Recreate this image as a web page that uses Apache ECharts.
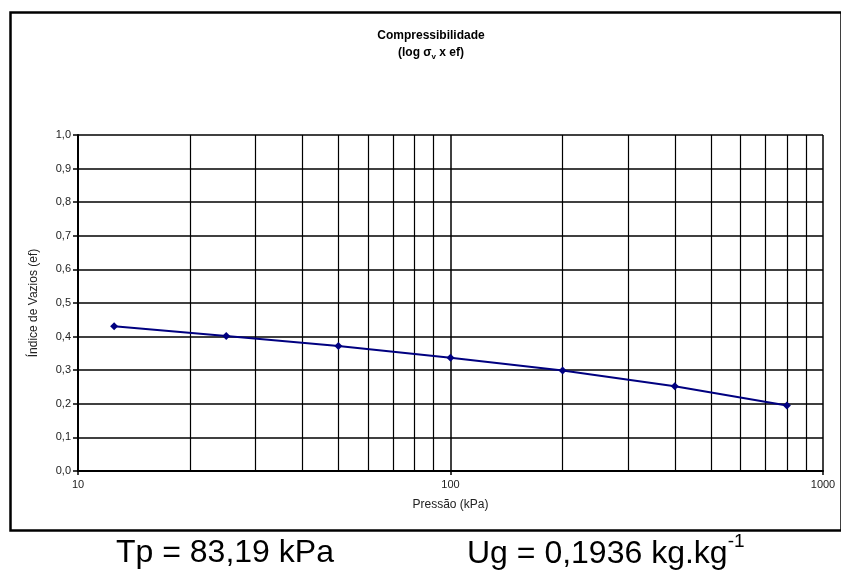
<!DOCTYPE html>
<html>
<head>
<meta charset="utf-8">
<script src="https://cdn.jsdelivr.net/npm/echarts@6/dist/echarts.min.js"></script>
<style>
html,body{margin:0;padding:0;background:#fff;}
#chart{width:841px;height:574px;}
</style>
</head>
<body>
<div id="chart"></div>
<script>
// Data
const pressures = [12.5, 25, 50, 100, 200, 400, 800];
const voidRatio = [0.431, 0.402, 0.372, 0.337, 0.299, 0.252, 0.195];
const minorGridX = [20, 30, 40, 50, 60, 70, 80, 90, 200, 300, 400, 500, 600, 700, 800, 900];
const titleLine1 = 'Compressibilidade';
const xAxisName = 'Pressão (kPa)';
const yAxisName = 'Índice de Vazios (ef)';
const tpText = 'Tp = 83,19 kPa';
const ugText = 'Ug = 0,1936 kg.kg';
const ugSup = '-1';

const FONT = 'Liberation Sans, Arial, sans-serif';
const chart = echarts.init(document.getElementById('chart'), null, {renderer: 'canvas'});

const option = {
  backgroundColor: '#fff',
  animation: false,
  title: [
    {
      text: '{t|' + titleLine1 + '}\n{b|(log }{s|σ}{v|v}{b| x ef)}',
      left: 426, top: 22, textAlign: 'center',
      textStyle: {
        rich: {
          t: {fontFamily: FONT, fontSize: 12, fontWeight: 'bold', color: '#000', lineHeight: 17, align: 'center'},
          b: {fontFamily: FONT, fontSize: 12, fontWeight: 'bold', color: '#000', lineHeight: 17},
          s: {fontFamily: FONT, fontSize: 12, color: '#000', lineHeight: 17},
          v: {fontFamily: FONT, fontSize: 8, color: '#000', lineHeight: 13, verticalAlign: 'bottom'}
        }
      }
    },
    {
      text: tpText,
      left: 111, top: 532,
      textStyle: {fontFamily: FONT, fontSize: 32, fontWeight: 'normal', color: '#000'}
    },
    {
      text: '{m|' + ugText + '}{p|' + ugSup + '}',
      left: 462, top: 525,
      textStyle: {
        fontWeight: 'normal',
        rich: {
          m: {fontFamily: FONT, fontSize: 32, fontWeight: 'normal', color: '#000', verticalAlign: 'bottom', lineHeight: 40},
          p: {fontFamily: FONT, fontSize: 19, fontWeight: 'normal', color: '#000', verticalAlign: 'top', lineHeight: 40, padding: [2, 0, 0, 0]}
        }
      }
    }
  ],
  graphic: [
    {
      type: 'rect', left: 8, top: 10, silent: true,
      shape: {width: 831, height: 518},
      style: {fill: 'none', stroke: '#000', lineWidth: 2.5}
    }
  ],
  grid: {left: 78, right: 18, top: 135, bottom: 103, containLabel: false},
  xAxis: {
    type: 'log', logBase: 10, min: 10, max: 1000,
    name: xAxisName, nameLocation: 'middle', nameGap: 28,
    nameTextStyle: {fontFamily: FONT, fontSize: 12, color: '#222'},
    axisLine: {show: true, onZero: false, lineStyle: {color: '#000', width: 2}},
    axisTick: {show: true, length: 4, lineStyle: {color: '#000', width: 1.5}},
    axisLabel: {fontFamily: FONT, fontSize: 11, color: '#222', margin: 8, formatter: v => String(Math.round(v))},
    splitLine: {show: true, lineStyle: {color: '#000', width: 1.5}},
    minorTick: {show: false},
    minorSplitLine: {show: false}
  },
  yAxis: {
    type: 'value', min: 0, max: 1, interval: 0.1,
    name: yAxisName, nameLocation: 'middle', nameGap: 38,
    nameTextStyle: {fontFamily: FONT, fontSize: 12, color: '#222'},
    axisLine: {show: true, lineStyle: {color: '#000', width: 2}},
    axisTick: {show: true, length: 5, lineStyle: {color: '#000', width: 1.5}},
    axisLabel: {
      fontFamily: FONT, fontSize: 11, color: '#222', margin: 7,
      formatter: v => v.toFixed(1).replace('.', ',')
    },
    splitLine: {show: true, lineStyle: {color: '#000', width: 1.5}}
  },
  series: [
    {
      type: 'line',
      data: pressures.map((p, i) => [p, voidRatio[i]]),
      symbol: 'diamond', symbolSize: 8,
      lineStyle: {color: '#000080', width: 2},
      itemStyle: {color: '#000080'},
      z: 5,
      markLine: {
        silent: true, symbol: ['none', 'none'], animation: false,
        label: {show: false},
        lineStyle: {color: '#000', width: 1.2, type: 'solid'},
        emphasis: {disabled: true},
        data: minorGridX.map(x => ({xAxis: x}))
      }
    }
  ]
};
chart.setOption(option);
</script>
</body>
</html>
